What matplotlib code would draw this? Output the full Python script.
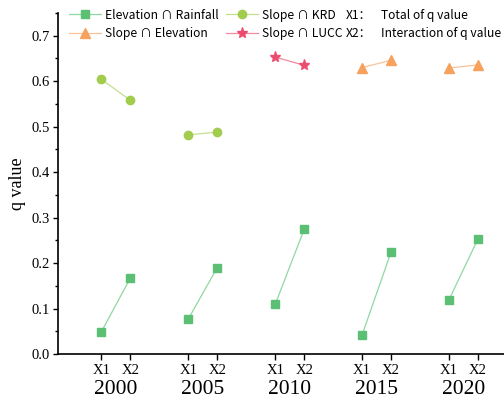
import numpy as np
import matplotlib
matplotlib.use("Agg")
import matplotlib.pyplot as plt
from matplotlib.ticker import MultipleLocator

years = ["2000", "2005", "2010", "2015", "2020"]
slots = ["X1", "X2"]

elev_rain = [(0.049, 0.167), (0.077, 0.190), (0.109, 0.274), (0.042, 0.224), (0.119, 0.253)]
slope_krd = {"2000": (0.604, 0.558), "2005": (0.482, 0.488)}
slope_lucc = {"2010": (0.653, 0.635)}
slope_elev = {"2015": (0.630, 0.646), "2020": (0.629, 0.636)}

SERIF = "Liberation Serif"
SANS = ["Noto Sans CJK SC", "DejaVu Sans"]
LEG_FS = 8.7

fig = plt.figure(figsize=(5.04, 4.0), dpi=100)
ax = fig.add_axes([0.115, 0.115, 0.885, 0.8525])


def pos(year):
    i = years.index(year)
    return [3 * i + 1, 3 * i + 2]


styles = {
    "er": dict(color="#5bbf74", line="#8fd8a2", marker="s", ms=5.5),
    "krd": dict(color="#a2cc4e", line="#c3df8f", marker="o", ms=6),
    "se": dict(color="#f6a25e", line="#f8c39a", marker="^", ms=6.5),
    "lucc": dict(color="#ec4d6e", line="#f08ba0", marker="*", ms=8),
}


def draw(key, year, vals):
    s = styles[key]
    h, = ax.plot(pos(year), vals, color=s["line"], lw=0.9, marker=s["marker"],
                 ms=s["ms"], mfc=s["color"], mec=s["color"])
    return h


handles = {}
for k, y in enumerate(years):
    handles["er"] = draw("er", y, elev_rain[k])
for y, v in slope_krd.items():
    handles["krd"] = draw("krd", y, v)
for y, v in slope_lucc.items():
    handles["lucc"] = draw("lucc", y, v)
for y, v in slope_elev.items():
    handles["se"] = draw("se", y, v)

ax.set_xlim(-0.5, 14.9)
ax.set_ylim(0, 0.75)
ticks = [p for y in years for p in pos(y)]
ax.set_xticks(ticks)
ax.set_xticklabels(slots * len(years), fontfamily=SERIF, fontsize=10.5)
for i, y in enumerate(years):
    ax.text(3 * i + 1.5, -0.077, y, ha="center", va="center", fontfamily=SERIF,
            fontsize=15.5, clip_on=False)

ax.yaxis.set_minor_locator(MultipleLocator(0.05))
yt = np.round(np.arange(0, 0.71, 0.1), 1)
ax.set_yticks(yt)
ax.set_yticklabels([f"{v:.1f}" for v in yt], fontfamily=SERIF, fontsize=10.5)
ax.set_ylabel("q value", fontfamily=SERIF, fontsize=13)
ax.yaxis.set_label_coords(-0.072, 0.5)
ax.tick_params(axis="x", which="major", direction="out", length=4.3, width=1, pad=3)
ax.tick_params(axis="y", which="major", direction="out", length=3.6, width=1, pad=2)
ax.tick_params(axis="y", which="minor", direction="out", length=2.2, width=1)
ax.spines["top"].set_visible(False)
ax.spines["right"].set_visible(False)
for sp in ("left", "bottom"):
    ax.spines[sp].set_linewidth(1.2)

ax.legend([handles["er"], handles["se"], handles["krd"], handles["lucc"]],
          ["Elevation \u2229 Rainfall", "Slope \u2229 Elevation",
           "Slope \u2229 KRD", "Slope \u2229 LUCC"],
          ncol=2, loc="upper left", bbox_to_anchor=(0.0247, 1.013), frameon=False,
          prop={"family": SANS, "size": LEG_FS}, handlelength=2.65,
          handletextpad=0.33, columnspacing=0.58, labelspacing=0.45,
          borderpad=0, borderaxespad=0)

notes = [("X1\uff1a", "Total of q value", 0.994), ("X2\uff1a", "Interaction of q value", 0.941)]
for key, desc, yy in notes:
    ax.text(0.6457, yy, key, transform=ax.transAxes, fontfamily=SANS,
            fontsize=LEG_FS, va="center", ha="left")
    ax.text(0.7242, yy, desc, transform=ax.transAxes, fontfamily=SANS,
            fontsize=LEG_FS, va="center", ha="left")

fig.savefig("out.png", dpi=100)
